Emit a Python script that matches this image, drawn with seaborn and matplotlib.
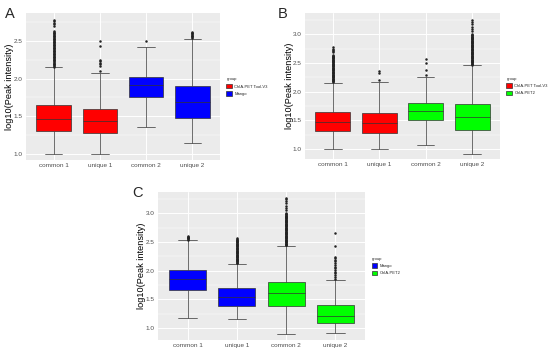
import numpy as np
import pandas as pd
import seaborn as sns
import matplotlib.pyplot as plt

cats = ["common 1", "unique 1", "common 2", "unique 2"]

# box stats per panel: lower whisker, q1, median, q3, upper whisker
a_group = ["ChIA-PET Tool-V3", "ChIA-PET Tool-V3", "Mango", "Mango"]
a_lo = [1.00, 1.00, 1.36, 1.14]
a_q1 = [1.30, 1.28, 1.75, 1.48]
a_med = [1.47, 1.44, 1.91, 1.69]
a_q3 = [1.65, 1.60, 2.02, 1.90]
a_hi = [2.15, 2.08, 2.42, 2.53]
a_out = [
    list(np.arange(2.16, 2.64, 0.01)) + [2.70, 2.72, 2.74, 2.76, 2.78],
    [2.10, 2.17, 2.19, 2.21, 2.23, 2.25, 2.43, 2.50],
    [2.50],
    [2.54, 2.55, 2.56, 2.57, 2.58, 2.59, 2.60, 2.61, 2.62],
]

b_group = ["ChIA-PET Tool-V3", "ChIA-PET Tool-V3", "ChIA-PET2", "ChIA-PET2"]
b_lo = [1.00, 1.00, 1.08, 0.91]
b_q1 = [1.31, 1.28, 1.51, 1.33]
b_med = [1.47, 1.45, 1.67, 1.56]
b_q3 = [1.65, 1.63, 1.80, 1.78]
b_hi = [2.16, 2.17, 2.25, 2.46]
b_out = [
    list(np.arange(2.17, 2.65, 0.01)) + [2.69, 2.71, 2.73, 2.75, 2.77],
    [2.20, 2.33, 2.36],
    [2.29, 2.38, 2.50, 2.57],
    list(np.arange(2.47, 3.01, 0.01)) + [3.05, 3.09, 3.13, 3.17, 3.21, 3.25],
]

c_group = ["Mango", "Mango", "ChIA-PET2", "ChIA-PET2"]
c_lo = [1.17, 1.15, 0.90, 0.92]
c_q1 = [1.67, 1.38, 1.38, 1.08]
c_med = [1.85, 1.54, 1.61, 1.21]
c_q3 = [2.01, 1.69, 1.80, 1.40]
c_hi = [2.53, 2.12, 2.43, 1.83]
c_out = [
    [2.54, 2.55, 2.56, 2.57, 2.58, 2.59, 2.60],
    list(np.arange(2.13, 2.56, 0.01)),
    list(np.arange(2.44, 3.01, 0.01)) + [3.05, 3.09, 3.13, 3.17, 3.21, 3.24, 3.26],
    [1.86, 1.89, 1.92, 1.95, 1.98, 2.01, 2.04, 2.07, 2.10, 2.13, 2.16, 2.19,
     2.22, 2.24, 2.42, 2.65],
]

colors = {"ChIA-PET Tool-V3": "#FF0000", "Mango": "#0000FF", "ChIA-PET2": "#00FF00"}

W, H = 550, 358


def box_frame(group, lo, q1, med, q3, hi):
    rows = []
    for i, c in enumerate(cats):
        for v in (lo[i], q1[i], med[i], q3[i], hi[i]):
            rows.append({"cat": c, "val": v, "group": group[i]})
    return pd.DataFrame(rows)


def out_frame(out):
    rows = []
    for i, c in enumerate(cats):
        for v in out[i]:
            rows.append({"cat": c, "val": v})
    return pd.DataFrame(rows)


def panel(fig, rect, group, lo, q1, med, q3, hi, out, ylim, yticks, letter, letter_xy):
    l, t, r, b = rect
    ax = fig.add_axes([l / W, (H - b) / H, (r - l) / W, (b - t) / H])
    df = box_frame(group, lo, q1, med, q3, hi)
    hue_order = list(dict.fromkeys(group))
    sns.boxplot(data=df, x="cat", y="val", hue="group", order=cats, hue_order=hue_order,
                palette=colors, dodge=False, whis=np.inf, width=0.75, fliersize=0,
                linecolor="#333333", linewidth=0.5, saturation=1, ax=ax)
    sns.stripplot(data=out_frame(out), x="cat", y="val", order=cats, jitter=False,
                  color="#222222", size=1.8, linewidth=0, ax=ax)
    ax.set_xlim(-0.6, 3.6)
    ax.set_ylim(*ylim)
    ax.set_yticks(yticks)
    ax.set_yticklabels([f"{v:.1f}" for v in yticks])
    ax.set_yticks([v + 0.25 for v in yticks], minor=True)
    ax.set_facecolor("#EBEBEB")
    ax.grid(True, which="major", color="white", linewidth=0.7)
    ax.grid(True, which="minor", axis="y", color="white", linewidth=0.35)
    ax.set_axisbelow(True)
    for s in ax.spines.values():
        s.set_visible(False)
    ax.tick_params(axis="both", which="major", labelsize=4.6, colors="#4D4D4D",
                   length=1.5, width=0.5, pad=0.8)
    ax.tick_params(axis="y", which="minor", length=0)
    ax.set_xlabel("")
    ax.set_ylabel("log10(Peak intensity)", fontsize=6.6, color="black")
    ax.yaxis.set_label_coords(-11.5 / (r - l), 0.5)
    sns.move_legend(ax, "center left", bbox_to_anchor=(1.02, 0.5), frameon=False,
                    title="group", fontsize=3.0, title_fontsize=3.0,
                    handlelength=1.4, handleheight=1.2, labelspacing=0.7,
                    handletextpad=0.5, borderaxespad=0.2)
    leg = ax.get_legend()
    leg._legend_box.align = "left"
    fig.text(letter_xy[0] / W, 1 - letter_xy[1] / H, letter, fontsize=10.5,
             ha="left", va="baseline")
    return ax


sns.set_theme(style="darkgrid")
plt.rcParams["font.family"] = ["Liberation Sans", "DejaVu Sans"]
fig = plt.figure(figsize=(5.5, 3.58), dpi=100)
fig.patch.set_facecolor("white")

panel(fig, (26, 13, 220, 160), a_group, a_lo, a_q1, a_med, a_q3, a_hi, a_out,
      (0.92, 2.87), [1.0, 1.5, 2.0, 2.5], "A", (5, 18))
panel(fig, (305, 13, 500, 159), b_group, b_lo, b_q1, b_med, b_q3, b_hi, b_out,
      (0.83, 3.37), [1.0, 1.5, 2.0, 2.5, 3.0], "B", (278, 18))
panel(fig, (158, 192, 365, 340), c_group, c_lo, c_q1, c_med, c_q3, c_hi, c_out,
      (0.79, 3.37), [1.0, 1.5, 2.0, 2.5, 3.0], "C", (132, 197))

fig.savefig("out.png", dpi=100)
